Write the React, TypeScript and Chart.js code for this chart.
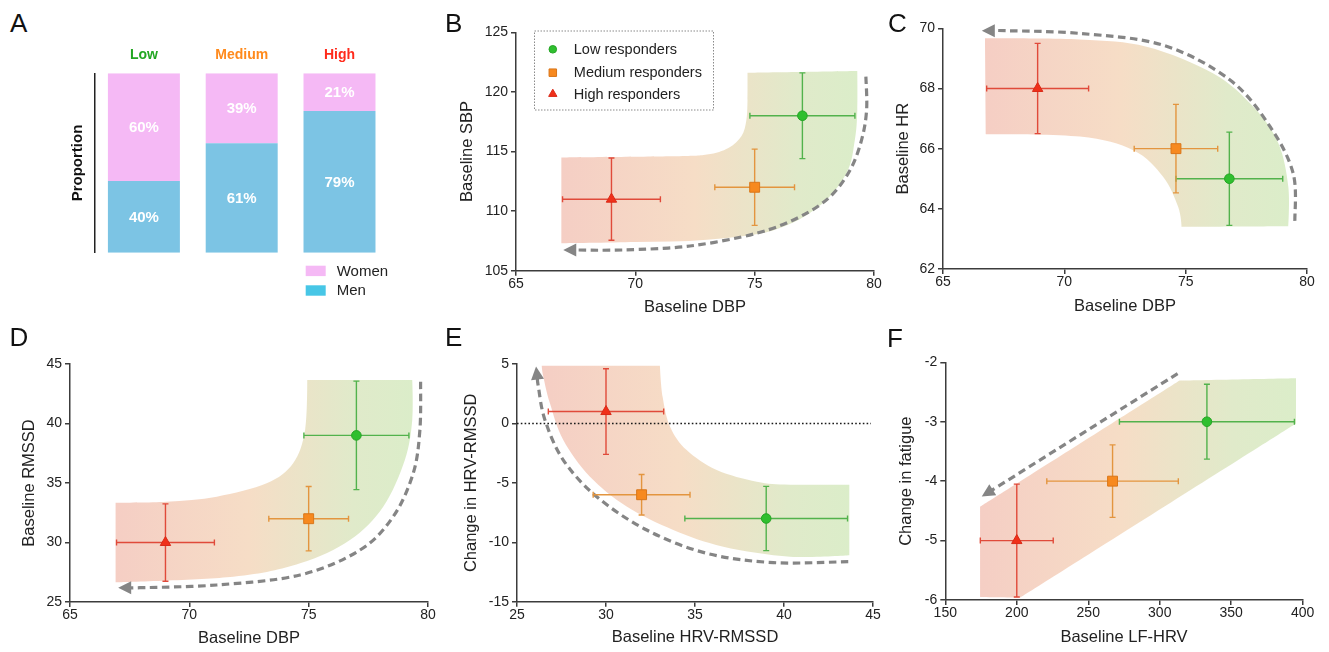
import React, { useEffect, useRef } from "react";
import { Chart, registerables } from "chart.js";

Chart.register(...registerables);

const FONT = "'Liberation Sans', Arial, Helvetica, sans-serif";
Chart.defaults.font.family = FONT;

// ---------------- Panel A data ----------------
const groupLabels = ["Low", "Medium", "High"];
const groupColors = ["#22a722", "#ff8a1c", "#ff2b1c"];
const womenPct = [60, 39, 21];
const menPct = [40, 61, 79];
const sexLabels = ["Women", "Men"];

// ---------------- series (Low, Medium, High responders) ----------------
const seriesNames = ["Low responders", "Medium responders", "High responders"];

// Panel B: Baseline DBP vs Baseline SBP
const bXRange = [65, 80, 5];
const bYRange = [105, 125, 5];
const bX = [77, 75, 69];
const bXErr = [2.2, 1.67, 2.05];
const bY = [118, 112, 111];
const bYErr = [3.6, 3.2, 3.45];
const bandB = [
  [66.9, 114.5, 1], [71.5, 114.6], [73.0, 114.75], [73.9, 115.3], [74.45, 116.3], [74.65, 117.6], [74.7, 119.3],
  [74.7, 121.6, 1], [79.3, 121.75, 1], [79.3, 118.5], [79.2, 116.0], [78.85, 113.2], [77.7, 110.4],
  [75.8, 108.4], [73.0, 107.6], [70.0, 107.4], [66.9, 107.3, 1],
];
const arrowB = [
  [79.66, 121.28], [79.69, 118.48], [79.48, 115.97], [79.0, 113.45], [78.16, 111.21], [76.9, 109.53],
  [75.08, 108.14], [72.29, 107.07], [69.5, 106.74], [66.98, 106.74],
];

// Panel C: Baseline DBP vs Baseline HR
const cXRange = [65, 80, 5];
const cYRange = [62, 70, 2];
const cX = [76.8, 74.6, 68.9];
const cXErr = [2.2, 1.72, 2.1];
const cY = [65, 66, 68];
const cYErr = [1.55, 1.47, 1.5];
const bandC = [
  [66.73, 69.67, 1], [70.64, 69.63], [73.39, 69.39], [76.14, 68.5], [77.79, 67.39], [78.82, 66.18], [79.23, 64.73],
  [79.23, 63.42, 1], [74.83, 63.4, 1], [74.69, 64.07], [74.07, 65.07], [72.84, 65.95], [70.64, 66.4], [66.77, 66.48, 1],
];
const arrowC = [
  [79.5, 63.6], [79.43, 65.18], [78.48, 66.73], [76.83, 68.28], [74.07, 69.44], [70.64, 69.83], [67.6, 69.92], [66.6, 69.92],
];

// Panel D: Baseline DBP vs Baseline RMSSD
const dXRange = [65, 80, 5];
const dYRange = [25, 45, 5];
const dX = [77, 75, 69];
const dXErr = [2.2, 1.67, 2.05];
const dY = [39, 32, 30];
const dYErr = [4.56, 2.7, 3.25];
const bandD = [
  [66.91, 33.35, 1], [69.05, 33.43], [71.15, 33.85], [73.24, 34.97], [74.35, 36.66], [74.85, 39.45],
  [74.94, 43.66, 1], [79.34, 43.66, 1], [79.34, 40.29], [79.03, 36.93], [78.13, 33.03], [76.73, 30.21],
  [74.64, 28.25], [71.84, 27.12], [66.91, 26.65, 1],
];
const arrowD = [
  [79.69, 43.51], [79.66, 39.45], [79.38, 35.81], [78.54, 32.17], [77.15, 29.37], [74.64, 27.27],
  [71.15, 26.43], [67.93, 26.2], [67.02, 26.2],
];

// Panel E: Baseline HRV-RMSSD vs Change in HRV-RMSSD
const eXRange = [25, 45, 5];
const eYRange = [-15, 5, 5];
const eX = [39, 32, 30];
const eXErr = [4.57, 2.72, 3.24];
const eY = [-8, -6, 1];
const eYErr = [2.7, 1.7, 3.6];
const eZeroLine = 0;
const bandE = [
  [26.39, 4.86, 1], [33.03, 4.86, 1], [33.18, 2.25], [33.6, -0.27], [34.53, -2.24], [36.22, -3.92], [38.47, -4.9],
  [40.34, -5.15], [43.67, -5.15, 1], [43.67, -11.1, 1], [40.34, -11.21], [36.59, -10.37], [33.78, -8.97],
  [31.16, -7.0], [29.1, -4.48], [27.6, -1.39], [26.85, 1.69], [26.48, 3.93],
];
const arrowE = [
  [43.61, -11.63], [39.4, -11.71], [35.66, -10.93], [32.29, -8.97], [29.48, -6.17], [27.6, -3.08],
  [26.57, 0.29], [26.2, 3.09], [26.07, 4.78],
];

// Panel F: Baseline LF-HRV vs Change in fatigue
const fXRange = [150, 400, 50];
const fYRange = [-6, -2, 1];
const fX = [333, 267, 200];
const fXErr = [61.2, 46, 25.5];
const fY = [-3, -4, -5];
const fYErr = [0.63, 0.61, 0.95];
const bandF = [
  [174.3, -5.95, 1], [174.3, -4.43, 1], [313.6, -2.31, 1], [395.3, -2.27, 1], [395.3, -3.03, 1], [202.3, -5.96, 1],
];
const arrowF = [[312.5, -2.19], [175.5, -4.26]];

// ---------------- styles ----------------
const seriesStyle = [
  { style: "circle", r: 4.8, fill: "#2fbf2f", stroke: "#25a525", err: "#52b24c", lr: 3.8 },
  { style: "rect", r: 7, fill: "#f7891f", stroke: "#d9761a", err: "#e3953f", lr: 5.3 },
  { style: "triangle", r: 6, fill: "#f0301a", stroke: "#d92a18", err: "#e04a3a", lr: 4.8 },
];
const AXIS_COLOR = "#3c3c3c";
const TICK_COLOR = "#222";
const ARROW_COLOR = "#858585";

type PxPt = { x: number; y: number; c: boolean };

function tracePath(ctx: CanvasRenderingContext2D, pts: PxPt[], closed: boolean) {
  const n = pts.length;
  const tan = (k: number) => {
    const p = pts[k];
    if (p.c) return { x: 0, y: 0 };
    const prev = closed ? pts[(k - 1 + n) % n] : pts[Math.max(k - 1, 0)];
    const next = closed ? pts[(k + 1) % n] : pts[Math.min(k + 1, n - 1)];
    return { x: (next.x - prev.x) / 2, y: (next.y - prev.y) / 2 };
  };
  ctx.moveTo(pts[0].x, pts[0].y);
  const segs = closed ? n : n - 1;
  for (let i = 0; i < segs; i++) {
    const a = pts[i];
    const j = (i + 1) % n;
    const b = pts[j];
    const ta = tan(i);
    const tb = tan(j);
    ctx.bezierCurveTo(a.x + ta.x / 3, a.y + ta.y / 3, b.x - tb.x / 3, b.y - tb.y / 3, b.x, b.y);
  }
  if (closed) ctx.closePath();
}

function drawMarker(ctx: CanvasRenderingContext2D, style: string, x: number, y: number, r: number, fill: string, stroke: string) {
  ctx.save();
  ctx.beginPath();
  if (style === "circle") {
    ctx.arc(x, y, r, 0, Math.PI * 2);
  } else if (style === "rect") {
    const s = r * Math.SQRT1_2;
    ctx.rect(x - s, y - s, 2 * s, 2 * s);
  } else {
    ctx.moveTo(x, y - r);
    ctx.lineTo(x + r * Math.sin(Math.PI / 3), y + r / 2);
    ctx.lineTo(x - r * Math.sin(Math.PI / 3), y + r / 2);
    ctx.closePath();
  }
  ctx.fillStyle = fill;
  ctx.fill();
  ctx.lineWidth = 1;
  ctx.strokeStyle = stroke;
  ctx.stroke();
  ctx.restore();
}

type Panel = {
  key: string;
  L: number; T: number; R: number; Bm: number; ytx: number; xty: number;
  xr: number[]; yr: number[];
  xTitle: string; yTitle: string;
  xs: number[]; xe: number[]; ys: number[]; ye: number[];
  band: number[][]; arrow: number[][];
  legend?: boolean; zero?: number;
};

const panels: Panel[] = [
  { key: "B", L: 516, T: 32.3, R: 874, Bm: 270.7, ytx: 468.3, xty: 307, xr: bXRange, yr: bYRange,
    xTitle: "Baseline DBP", yTitle: "Baseline SBP", xs: bX, xe: bXErr, ys: bY, ye: bYErr, band: bandB, arrow: arrowB, legend: true },
  { key: "C", L: 943, T: 28.3, R: 1307, Bm: 269, ytx: 903.7, xty: 306.3, xr: cXRange, yr: cYRange,
    xTitle: "Baseline DBP", yTitle: "Baseline HR", xs: cX, xe: cXErr, ys: cY, ye: cYErr, band: bandC, arrow: arrowC },
  { key: "D", L: 70, T: 364, R: 428, Bm: 602, ytx: 30, xty: 638.3, xr: dXRange, yr: dYRange,
    xTitle: "Baseline DBP", yTitle: "Baseline RMSSD", xs: dX, xe: dXErr, ys: dY, ye: dYErr, band: bandD, arrow: arrowD },
  { key: "E", L: 517, T: 364, R: 873, Bm: 601.7, ytx: 472.2, xty: 637.3, xr: eXRange, yr: eYRange,
    xTitle: "Baseline HRV-RMSSD", yTitle: "Change in HRV-RMSSD", xs: eX, xe: eXErr, ys: eY, ye: eYErr, band: bandE, arrow: arrowE, zero: eZeroLine },
  { key: "F", L: 945.3, T: 362.3, R: 1302.7, Bm: 600, ytx: 907, xty: 636.7, xr: fXRange, yr: fYRange,
    xTitle: "Baseline LF-HRV", yTitle: "Change in fatigue", xs: fX, xe: fXErr, ys: fY, ye: fYErr, band: bandF, arrow: arrowF },
];

type Box = { x: number; y: number; w: number; h: number; yAxisW: number; xAxisH: number; padTop: number; padRight: number; padBottom?: number };

function boxFor(p: Panel): Box {
  const x = Math.round(p.ytx - 9.9);
  const y = Math.round(p.T - 14);
  const r = Math.round(p.R + 18);
  const b = Math.round(p.xty + 9.9);
  return { x, y, w: r - x, h: b - y, yAxisW: p.L - x, xAxisH: b - p.Bm, padTop: p.T - y, padRight: r - p.R };
}

function makeScatter(canvas: HTMLCanvasElement, p: Panel, box: Box) {
  const tickFont = { family: FONT, size: 14 };
  const titleFont = { family: FONT, size: 16.5 };

  const decor = {
    id: "decor" + p.key,
    beforeDatasetsDraw(chart: any) {
      const ctx: CanvasRenderingContext2D = chart.ctx;
      const sx = chart.scales.x;
      const sy = chart.scales.y;
      const toPx = (pt: number[]): PxPt => ({ x: sx.getPixelForValue(pt[0]), y: sy.getPixelForValue(pt[1]), c: pt[2] === 1 });

      // gradient band
      const bp = p.band.map(toPx);
      const minX = Math.min(...bp.map((q) => q.x));
      const maxX = Math.max(...bp.map((q) => q.x));
      const g = ctx.createLinearGradient(minX, 0, maxX, 0);
      g.addColorStop(0, "#f5cec4");
      g.addColorStop(0.45, "#f6ddc6");
      g.addColorStop(0.8, "#e0eaca");
      g.addColorStop(1, "#dbedc9");
      ctx.save();
      ctx.beginPath();
      tracePath(ctx, bp, true);
      ctx.fillStyle = g;
      ctx.fill();
      ctx.restore();

      // zero reference line
      if (p.zero !== undefined) {
        const y0 = sy.getPixelForValue(p.zero);
        ctx.save();
        ctx.strokeStyle = "#1a1a1a";
        ctx.lineWidth = 1.6;
        ctx.setLineDash([1.6, 2.2]);
        ctx.beginPath();
        ctx.moveTo(sx.getPixelForValue(p.xr[0]), y0);
        ctx.lineTo(sx.getPixelForValue(p.xr[1]) - 2, y0);
        ctx.stroke();
        ctx.restore();
      }

      // dashed arrow
      const ap = p.arrow.map(toPx);
      const n = ap.length;
      const tip = ap[n - 1];
      const prev = ap[n - 2];
      let dx = tip.x - prev.x;
      let dy = tip.y - prev.y;
      const len = Math.hypot(dx, dy) || 1;
      dx /= len;
      dy /= len;
      const headL = 13;
      const headW = 6.5;
      const shaft = ap.slice();
      shaft[n - 1] = { x: tip.x - dx * headL * 0.8, y: tip.y - dy * headL * 0.8, c: false };
      ctx.save();
      ctx.strokeStyle = ARROW_COLOR;
      ctx.lineWidth = 3.2;
      ctx.setLineDash([7.5, 4.5]);
      ctx.beginPath();
      tracePath(ctx, shaft, false);
      ctx.stroke();
      ctx.setLineDash([]);
      ctx.fillStyle = ARROW_COLOR;
      ctx.beginPath();
      ctx.moveTo(tip.x, tip.y);
      ctx.lineTo(tip.x - dx * headL - dy * headW, tip.y - dy * headL + dx * headW);
      ctx.lineTo(tip.x - dx * headL + dy * headW, tip.y - dy * headL - dx * headW);
      ctx.closePath();
      ctx.fill();
      ctx.restore();

      // error bars
      ctx.save();
      ctx.lineWidth = 1.4;
      for (let i = 0; i < p.xs.length; i++) {
        const st = seriesStyle[i];
        const cx = sx.getPixelForValue(p.xs[i]);
        const cy = sy.getPixelForValue(p.ys[i]);
        const x1 = sx.getPixelForValue(p.xs[i] - p.xe[i]);
        const x2 = sx.getPixelForValue(p.xs[i] + p.xe[i]);
        const y1 = sy.getPixelForValue(p.ys[i] + p.ye[i]);
        const y2 = sy.getPixelForValue(p.ys[i] - p.ye[i]);
        const cap = 3;
        ctx.strokeStyle = st.err;
        ctx.beginPath();
        ctx.moveTo(x1, cy); ctx.lineTo(x2, cy);
        ctx.moveTo(cx, y1); ctx.lineTo(cx, y2);
        ctx.moveTo(x1, cy - cap); ctx.lineTo(x1, cy + cap);
        ctx.moveTo(x2, cy - cap); ctx.lineTo(x2, cy + cap);
        ctx.moveTo(cx - cap, y1); ctx.lineTo(cx + cap, y1);
        ctx.moveTo(cx - cap, y2); ctx.lineTo(cx + cap, y2);
        ctx.stroke();
      }
      ctx.restore();
    },
    afterDatasetsDraw(chart: any) {
      if (!p.legend) return;
      const ctx: CanvasRenderingContext2D = chart.ctx;
      const ca = chart.chartArea;
      const bx = ca.left + 18.5;
      const by = ca.top - 1.3;
      ctx.save();
      ctx.strokeStyle = "#8a8a8a";
      ctx.lineWidth = 1;
      ctx.setLineDash([1.5, 1.5]);
      ctx.strokeRect(bx, by, 179, 79);
      ctx.setLineDash([]);
      const rows = [18.3, 41.7, 63];
      ctx.font = `14.5px ${FONT}`;
      ctx.fillStyle = "#222";
      ctx.textBaseline = "middle";
      ctx.textAlign = "left";
      for (let i = 0; i < seriesNames.length; i++) {
        const st = seriesStyle[i];
        drawMarker(ctx, st.style, bx + 18.3, by + rows[i], st.lr, st.fill, st.stroke);
        ctx.fillStyle = "#222";
        ctx.fillText(seriesNames[i], bx + 39.3, by + rows[i] + 0.5);
      }
      ctx.restore();
    },
  };

  return new Chart(canvas, {
    type: "scatter",
    data: {
      datasets: seriesNames.map((name, i) => ({
        label: name,
        data: [{ x: p.xs[i], y: p.ys[i] }],
        pointStyle: seriesStyle[i].style as any,
        pointRadius: seriesStyle[i].r,
        pointBackgroundColor: seriesStyle[i].fill,
        pointBorderColor: seriesStyle[i].stroke,
        pointBorderWidth: 1,
        clip: false as any,
      })),
    },
    options: {
      responsive: false,
      animation: false,
      events: [],
      layout: { padding: { top: box.padTop, right: box.padRight, left: 0, bottom: 0 } },
      plugins: { legend: { display: false }, tooltip: { enabled: false } },
      scales: {
        x: {
          type: "linear",
          min: p.xr[0],
          max: p.xr[1],
          ticks: { stepSize: p.xr[2], color: TICK_COLOR, font: tickFont, padding: 0, maxRotation: 0, autoSkip: false },
          grid: { display: true, drawOnChartArea: false, drawTicks: true, tickLength: 5, color: AXIS_COLOR, lineWidth: 1.5 },
          border: { display: true, color: AXIS_COLOR, width: 1.5 },
          title: { display: true, text: p.xTitle, font: titleFont, color: TICK_COLOR, padding: 0 },
          afterFit: (s: any) => { s.height = box.xAxisH; },
        },
        y: {
          type: "linear",
          min: p.yr[0],
          max: p.yr[1],
          ticks: { stepSize: p.yr[2], color: TICK_COLOR, font: tickFont, padding: 3, autoSkip: false },
          grid: { display: true, drawOnChartArea: false, drawTicks: true, tickLength: 5, color: AXIS_COLOR, lineWidth: 1.5 },
          border: { display: true, color: AXIS_COLOR, width: 1.5 },
          title: { display: true, text: p.yTitle, font: titleFont, color: TICK_COLOR, padding: 0 },
          afterFit: (s: any) => { s.width = box.yAxisW; },
        },
      },
    } as any,
    plugins: [decor],
  });
}

const boxA: Box = { x: 69, y: 30, w: 331, h: 280, yAxisW: 26, xAxisH: 43.3, padTop: 0, padRight: 11.6, padBottom: 57.3 };

function makeBars(canvas: HTMLCanvasElement, box: Box) {
  const labelsPlugin = {
    id: "barLabels",
    afterDatasetsDraw(chart: any) {
      const ctx: CanvasRenderingContext2D = chart.ctx;
      ctx.save();
      ctx.font = `bold 15px ${FONT}`;
      ctx.fillStyle = "#ffffff";
      ctx.textAlign = "center";
      ctx.textBaseline = "middle";
      chart.data.datasets.forEach((ds: any, di: number) => {
        const meta = chart.getDatasetMeta(di);
        meta.data.forEach((el: any, i: number) => {
          const pr = el.getProps(["x", "y", "base"], true);
          ctx.fillText(`${ds.data[i]}%`, pr.x, (pr.y + pr.base) / 2 + 1);
        });
      });
      ctx.restore();
    },
    afterDraw(chart: any) {
      const ctx: CanvasRenderingContext2D = chart.ctx;
      const ca = chart.chartArea;
      const swatch = ["#f5b9f5", "#47c6e6"];
      const rowsTop = [13, 32.6];
      ctx.save();
      ctx.font = `15px ${FONT}`;
      ctx.textBaseline = "middle";
      ctx.textAlign = "left";
      for (let i = 0; i < sexLabels.length; i++) {
        ctx.fillStyle = swatch[i];
        ctx.fillRect(ca.left + 210.7, ca.bottom + rowsTop[i], 20, 10.4);
        ctx.fillStyle = "#222";
        ctx.fillText(sexLabels[i], ca.left + 241.7, ca.bottom + rowsTop[i] + 6);
      }
      ctx.restore();
    },
  };

  return new Chart(canvas, {
    type: "bar",
    data: {
      labels: groupLabels,
      datasets: [
        { label: "Men", data: menPct, backgroundColor: "#7cc4e4", borderWidth: 0 },
        { label: "Women", data: womenPct, backgroundColor: "#f5b9f5", borderWidth: 0 },
      ],
    },
    options: {
      responsive: false,
      animation: false,
      events: [],
      layout: { padding: { top: 0, left: 0, right: box.padRight, bottom: box.padBottom } },
      datasets: { bar: { categoryPercentage: 1, barPercentage: 0.736 } },
      plugins: { legend: { display: false }, tooltip: { enabled: false } },
      scales: {
        x: {
          position: "top",
          stacked: true,
          grid: { display: false, drawTicks: false },
          border: { display: false },
          ticks: {
            color: (c: any) => groupColors[c.index],
            font: { family: FONT, size: 14, weight: "bold" },
            padding: 10,
          },
          afterFit: (s: any) => { s.height = box.xAxisH; },
        },
        y: {
          stacked: true,
          min: 0,
          max: 100,
          ticks: { display: false },
          grid: { display: false, drawTicks: false },
          border: { display: true, color: "#222", width: 1.5 },
          title: { display: true, text: "Proportion", font: { family: FONT, size: 15, weight: "bold" }, color: "#111", padding: 0 },
          afterFit: (s: any) => { s.width = box.yAxisW; },
        },
      },
    } as any,
    plugins: [labelsPlugin],
  });
}

function ChartCanvas({ box, make }: { box: Box; make: (c: HTMLCanvasElement) => Chart }) {
  const ref = useRef<HTMLCanvasElement>(null);
  useEffect(() => {
    const chart = make(ref.current as HTMLCanvasElement);
    return () => chart.destroy();
  }, []);
  return (
    <canvas
      ref={ref}
      width={box.w}
      height={box.h}
      style={{ position: "absolute", left: box.x, top: box.y, width: box.w, height: box.h }}
    />
  );
}

const letters = [
  { t: "A", x: 10, y: 10 },
  { t: "B", x: 445, y: 10 },
  { t: "C", x: 888, y: 10 },
  { t: "D", x: 9.5, y: 324 },
  { t: "E", x: 445, y: 324 },
  { t: "F", x: 887, y: 325 },
];

export default function App() {
  return (
    <div style={{ position: "absolute", left: 0, top: 0, width: 1329, height: 652, background: "#fff", overflow: "hidden" }}>
      <ChartCanvas box={boxA} make={(c) => makeBars(c, boxA)} />
      {panels.map((p) => {
        const box = boxFor(p);
        return <ChartCanvas key={p.key} box={box} make={(c) => makeScatter(c, p, box)} />;
      })}
      {letters.map((l) => (
        <div
          key={l.t}
          style={{ position: "absolute", left: l.x, top: l.y, fontFamily: FONT, fontSize: 26, lineHeight: 1, color: "#111" }}
        >
          {l.t}
        </div>
      ))}
    </div>
  );
}
